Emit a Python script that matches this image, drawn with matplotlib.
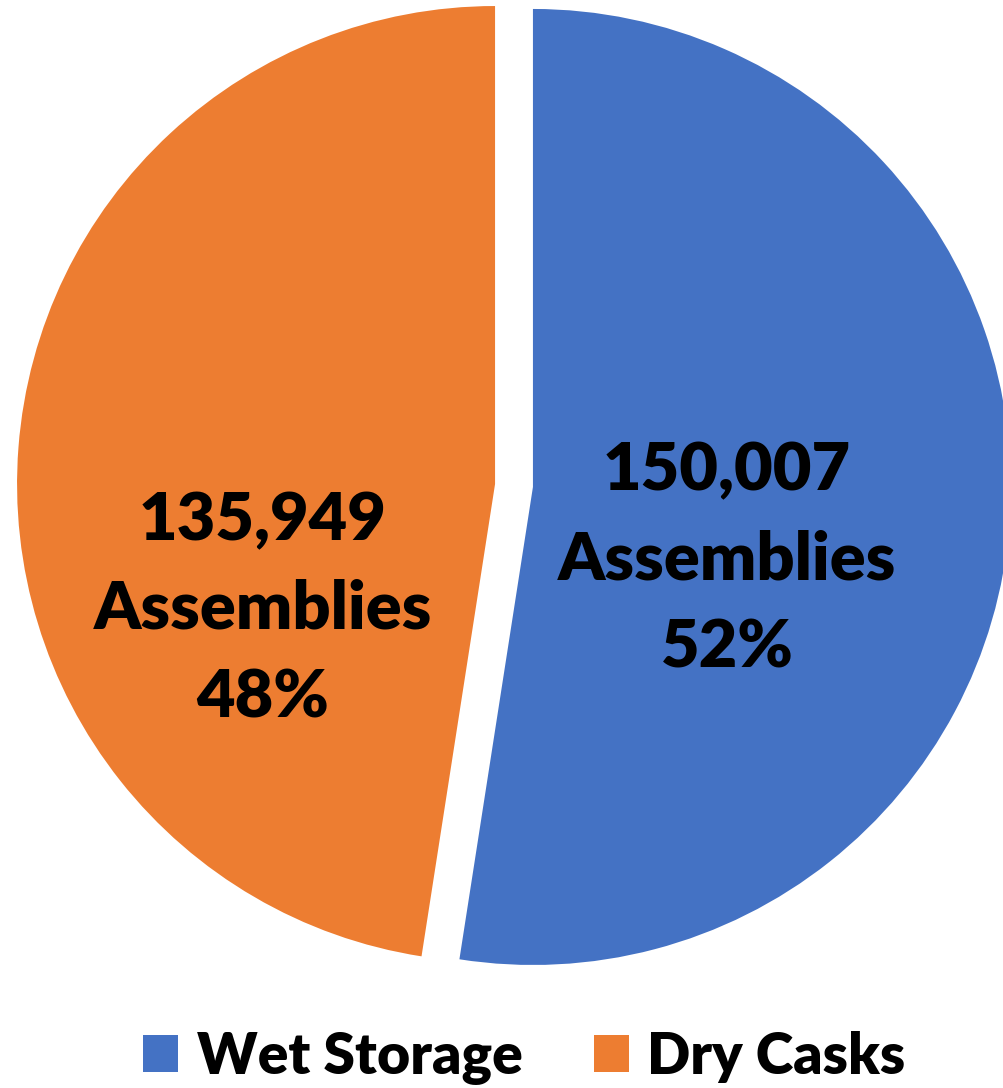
import matplotlib
matplotlib.use("Agg")
import matplotlib.pyplot as plt

categories = ["Wet Storage", "Dry Casks"]
assemblies = [150007, 135949]
colors = ["#4472C4", "#ED7D31"]

plt.rcParams['font.family'] = ['Lato', 'DejaVu Sans']

W, H = 1004, 1088
fig = plt.figure(figsize=(W / 100, H / 100), dpi=100)
ax = fig.add_axes([0, 0, 1, 1])

radius = 478
center = (514, H - 485.5)
wedges, _ = ax.pie(assemblies, colors=colors, startangle=90, counterclock=False,
                   explode=[19, 19], radius=radius, center=center,
                   wedgeprops=dict(linewidth=0))
ax.set_xlim(0, W)
ax.set_ylim(0, H)
ax.set_aspect('equal')
ax.axis('off')

total = sum(assemblies)
label_x = [727, 263]
label_baselines = [[490, 579, 667], [540, 628, 717]]
for v, lx, bls in zip(assemblies, label_x, label_baselines):
    lines = [f"{v:,}", "Assemblies", f"{round(100 * v / total)}%"]
    for line, b in zip(lines, bls):
        ax.text(lx, H - b, line, ha='center', va='baseline', fontsize=48,
                fontweight='heavy', color='black')

leg = fig.legend(wedges, categories, loc='lower center', bbox_to_anchor=(0.5224, 0.003),
                 ncol=2, frameon=False, prop=dict(size=41, weight='heavy'),
                 handlelength=0.61, handleheight=0.61, handletextpad=0.33,
                 columnspacing=1.25, borderpad=0, borderaxespad=0)

fig.savefig("out.png", dpi=100)
